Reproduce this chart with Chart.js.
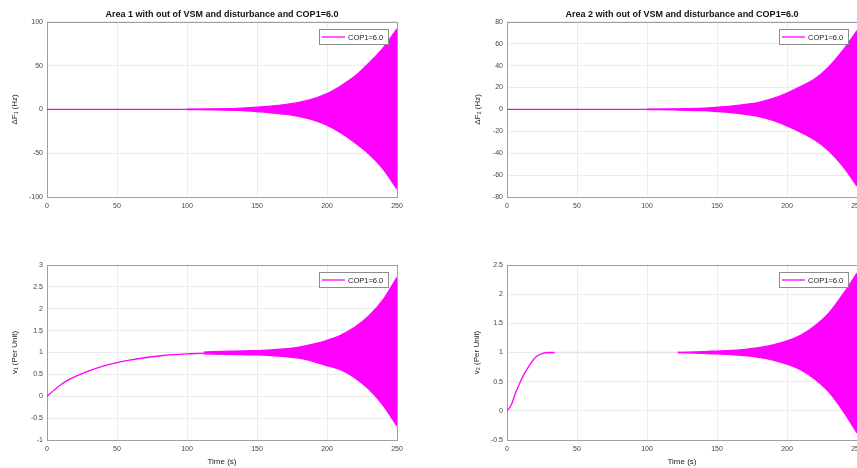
<!DOCTYPE html>
<html>
<head>
<meta charset="utf-8">
<script src="https://cdn.jsdelivr.net/npm/chart.js@4.4.0/dist/chart.umd.min.js"></script>
<style>
  html, body { margin: 0; padding: 0; background: #fff; width: 857px; height: 468px; overflow: hidden; position: relative; }
  canvas { position: absolute; }
</style>
</head>
<body>
<canvas id="c1" width="430" height="234" style="left:0;top:0"></canvas>
<canvas id="c2" width="440" height="234" style="left:430px;top:0"></canvas>
<canvas id="c3" width="430" height="234" style="left:0;top:234px"></canvas>
<canvas id="c4" width="440" height="234" style="left:430px;top:234px"></canvas>
<script>
var FONT = "'Liberation Sans', Arial, sans-serif";
var MAGENTA = '#ff00ff';
var GRID = '#ececec';
var TICK = '#444';
var LEGEND_LABEL = 'COP1=6.0';

// shared time axis
var timeTicks = [0, 50, 100, 150, 200, 250];
var zeroT = [0, 250];
var zeroV = [0, 0];

// Area 1 frequency deviation: envelope of the growing oscillation
var envT1 = [100, 120, 140, 150, 160, 170, 180, 190, 200, 210, 220, 230, 240, 250];
var upF1 = [0.2, 0.6, 1.5, 2.5, 3.8, 5.5, 8, 12, 18, 27, 38, 53, 70, 92];
var loF1 = [-0.2, -0.6, -1.5, -2.5, -3.8, -5.5, -8, -12, -18, -27, -38, -51, -68, -91];
var yTicks1 = [-100, -50, 0, 50, 100];

// Area 2 frequency deviation
var envT2 = [100, 120, 140, 150, 160, 170, 180, 190, 200, 210, 220, 230, 240, 250];
var upF2 = [0.15, 0.5, 1.2, 2, 3, 4.5, 6.5, 10, 15, 21, 28, 39, 54, 72];
var loF2 = [-0.15, -0.5, -1.2, -2, -3, -4.5, -6.5, -10, -15, -21, -28, -38, -52, -70];
var yTicks2 = [-80, -60, -40, -20, 0, 20, 40, 60, 80];

// Area 1 voltage: slow rise then growing oscillation
var vT1 = [0, 5, 10, 15, 20, 30, 40, 50, 60, 70, 80, 90, 100, 110, 120];
var vV1 = [0, 0.14, 0.27, 0.37, 0.45, 0.58, 0.69, 0.77, 0.83, 0.88, 0.92, 0.95, 0.97, 0.98, 0.99];
var envT3 = [112, 130, 140, 150, 160, 170, 180, 190, 200, 210, 220, 230, 240, 250];
var upV1 = [1.01, 1.03, 1.035, 1.045, 1.06, 1.08, 1.12, 1.19, 1.28, 1.4, 1.58, 1.84, 2.2, 2.72];
var loV1 = [0.97, 0.955, 0.95, 0.945, 0.93, 0.905, 0.87, 0.8, 0.7, 0.6, 0.42, 0.16, -0.2, -0.68];
var yTicks3 = [-1, -0.5, 0, 0.5, 1, 1.5, 2, 2.5, 3];

// Area 2 voltage: fast rise, flat, then growing oscillation
var vT2 = [0, 3, 6, 9, 12, 15, 18, 21, 25, 30, 34];
var vV2 = [0, 0.1, 0.3, 0.47, 0.62, 0.74, 0.85, 0.93, 0.98, 1.0, 1.0];
var flatT2 = [34, 122];
var flatV2 = [1.0, 1.0];
var envT4 = [122, 140, 150, 160, 170, 180, 190, 200, 210, 220, 230, 240, 250];
var upV2 = [1.0, 1.015, 1.025, 1.035, 1.055, 1.085, 1.13, 1.2, 1.3, 1.46, 1.68, 2.0, 2.36];
var loV2 = [1.0, 0.985, 0.975, 0.965, 0.945, 0.915, 0.87, 0.8, 0.7, 0.54, 0.32, 0.0, -0.38];
var yTicks4 = [-0.5, 0, 0.5, 1, 1.5, 2, 2.5];

function pts(t, v) {
  return t.map(function (x, i) { return {x: x, y: v[i]}; });
}

function lineSet(data, color, fill, label) {
  return {
    label: label || '',
    data: data,
    borderColor: color,
    backgroundColor: color,
    borderWidth: 1.3,
    pointRadius: 0,
    fill: fill || false,
    cubicInterpolationMode: 'monotone'
  };
}

//box round the axes and a matlab style legend in the corner
var framePlugin = {
  id: 'frame',
  beforeDatasetsDraw: function (chart) {
    var a = chart.chartArea, ctx = chart.ctx;
    ctx.save();
    ctx.strokeStyle = '#a0a0a0';
    ctx.lineWidth = 1;
    ctx.strokeRect(Math.round(a.left) + 0.5, Math.round(a.top) + 0.5, Math.round(a.width), Math.round(a.height));
    ctx.restore();
  },
  afterDatasetsDraw: function (chart) {
    var a = chart.chartArea, ctx = chart.ctx;
    var w = 69, h = 15;
    var x = Math.round(a.right - 9 - w), y = Math.round(a.top + 7);
    ctx.save();
    ctx.fillStyle = '#fff';
    ctx.fillRect(x, y, w, h);
    ctx.strokeStyle = '#8c8c8c';
    ctx.lineWidth = 1;
    ctx.strokeRect(x + 0.5, y + 0.5, w, h);
    ctx.strokeStyle = MAGENTA;
    ctx.lineWidth = 1.3;
    ctx.beginPath();
    ctx.moveTo(x + 3, y + h / 2 + 0.5);
    ctx.lineTo(x + 26, y + h / 2 + 0.5);
    ctx.stroke();
    ctx.fillStyle = '#222';
    ctx.font = '7.5px ' + FONT;
    ctx.textBaseline = 'middle';
    ctx.fillText(chart.data.datasets[0].label, x + 29, y + h / 2 + 1);
    ctx.restore();
  }
};

// matlab prints 1 and 2.5, not 1.0 and 2.50
function plainLabel(v) {
  return String(v);
}

function buildChart(id, o) {
  var ctx = document.getElementById(id).getContext('2d');
  return new Chart(ctx, {
    type: 'line',
    data: { datasets: o.datasets },
    options: {
      responsive: false,
      animation: false,
      layout: { padding: o.padding },
      plugins: {
        legend: { display: false },
        tooltip: { enabled: false },
        title: o.title ? {
          display: true, text: o.title, fullSize: false, color: '#111',
          font: { family: FONT, size: 9, weight: 'bold' },
          padding: { top: 9, bottom: 2 }
        } : { display: false }
      },
      scales: {
        x: {
          type: 'linear', min: 0, max: 250,
          afterBuildTicks: function (s) { s.ticks = timeTicks.map(function (v) { return {value: v}; }); },
          afterFit: function (s) { s.height = o.xHeight; },
          grid: { color: GRID, drawTicks: false },
          border: { display: false },
          ticks: { color: TICK, font: { family: FONT, size: 7 }, padding: 5, maxRotation: 0, callback: plainLabel },
          title: o.xTitle ? {
            display: true, text: o.xTitle, color: '#222',
            font: { family: FONT, size: 8 }, padding: { top: 0, bottom: 1 }
          } : { display: false }
        },
        y: {
          type: 'linear', min: o.yTicks[0], max: o.yTicks[o.yTicks.length - 1],
          afterBuildTicks: function (s) { s.ticks = o.yTicks.map(function (v) { return {value: v}; }); },
          afterFit: function (s) { s.width = o.yWidth; },
          grid: { color: GRID, drawTicks: false },
          border: { display: false },
          ticks: { color: TICK, font: { family: FONT, size: 7 }, padding: 4, callback: plainLabel },
          title: {
            display: true, text: o.yTitle, color: '#222',
            font: { family: FONT, size: 8 }, padding: { top: o.yTitlePad, bottom: 0 }
          }
        }
      }
    },
    plugins: [framePlugin]
  });
}

buildChart('c1', {
  title: 'Area 1 with out of VSM and disturbance and COP1=6.0',
  padding: { top: 0, right: 33, left: 0, bottom: 0 },
  xHeight: 37, yWidth: 47, yTitlePad: 10,
  yTicks: yTicks1, yTitle: 'ΔF₁ (Hz)',
  datasets: [
    lineSet(pts(zeroT, zeroV), MAGENTA, false, LEGEND_LABEL),
    lineSet(pts(envT1, upF1), MAGENTA),
    lineSet(pts(envT1, loF1), MAGENTA, '-1')
  ]
});

buildChart('c2', {
  title: 'Area 2 with out of VSM and disturbance and COP1=6.0',
  padding: { top: 0, right: 13, left: 0, bottom: 0 },
  xHeight: 37, yWidth: 77, yTitlePad: 43,
  yTicks: yTicks2, yTitle: 'ΔF₂ (Hz)',
  datasets: [
    lineSet(pts(zeroT, zeroV), MAGENTA, false, LEGEND_LABEL),
    lineSet(pts(envT2, upF2), MAGENTA),
    lineSet(pts(envT2, loF2), MAGENTA, '-1')
  ]
});

buildChart('c3', {
  padding: { top: 31, right: 33, left: 0, bottom: 0 },
  xHeight: 28, yWidth: 47, yTitlePad: 10, xTitle: 'Time (s)',
  yTicks: yTicks3, yTitle: 'v₁ (Per Unit)',
  datasets: [
    lineSet(pts(vT1, vV1), MAGENTA, false, LEGEND_LABEL),
    lineSet(pts(envT3, upV1), MAGENTA),
    lineSet(pts(envT3, loV1), MAGENTA, '-1')
  ]
});

buildChart('c4', {
  padding: { top: 31, right: 13, left: 0, bottom: 0 },
  xHeight: 28, yWidth: 77, yTitlePad: 42, xTitle: 'Time (s)',
  yTicks: yTicks4, yTitle: 'v₂ (Per Unit)',
  datasets: [
    lineSet(pts(vT2, vV2), MAGENTA, false, LEGEND_LABEL),
    lineSet(pts(flatT2, flatV2), '#eadcea'),
    lineSet(pts(envT4, upV2), MAGENTA),
    lineSet(pts(envT4, loV2), MAGENTA, '-1')
  ]
});
</script>
</body>
</html>
